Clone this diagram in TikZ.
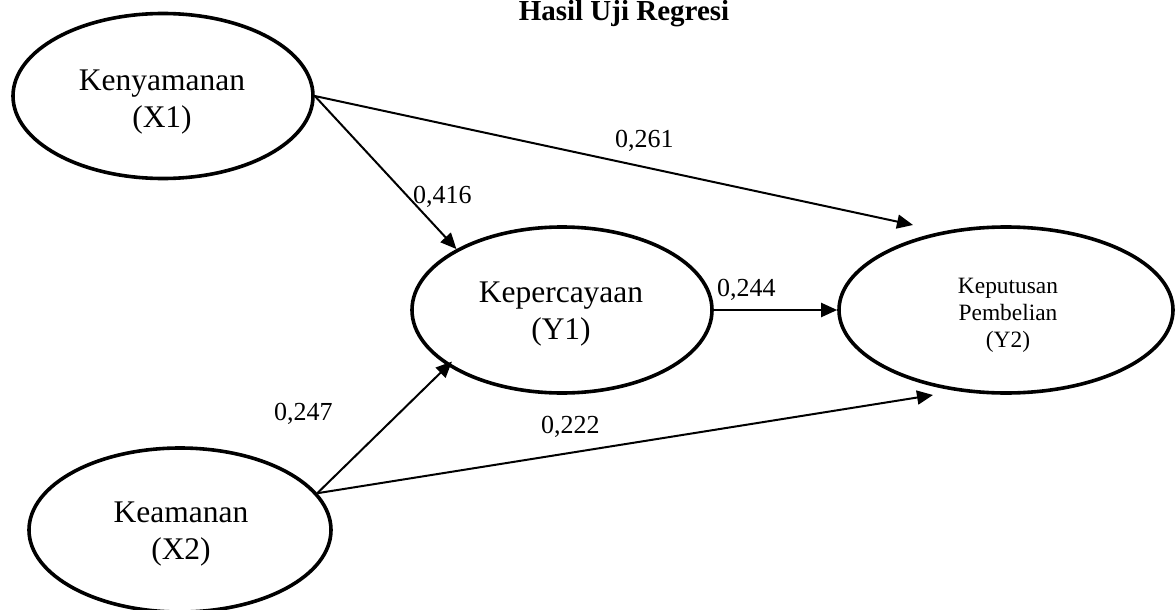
\documentclass[tikz,border=0pt]{standalone}
\usepackage{fontspec}
\setmainfont{Liberation Serif}
\usetikzlibrary{shapes.geometric,arrows.meta}
\begin{document}
\begin{tikzpicture}[x=1pt,y=-1pt,
  latent/.style={ellipse, draw, line width=3.6pt, inner sep=0pt},
  bigtext/.style={font=\fontsize{31.5}{37.5}\selectfont, align=center, inner sep=0pt},
  smalltext/.style={font=\fontsize{23.4}{27}\selectfont, align=center, inner sep=0pt},
  num/.style={font=\fontsize{26}{30}\selectfont, anchor=base west, inner sep=0pt},
  conn/.style={line width=2pt, -{Triangle[length=16pt,width=14pt]}}]
\useasboundingbox (0,0) rectangle (1176,610);
% title
\node[font=\bfseries\fontsize{29}{34}\selectfont, anchor=base, inner sep=0pt] (title) at (624,21) {Hasil Uji Regresi};
% constructs
\node[latent, minimum width=300pt, minimum height=165pt] (x1) at (163,96) {};
\node[latent, minimum width=300pt, minimum height=166pt] (y1) at (562,310) {};
\node[latent, minimum width=334pt, minimum height=166pt] (y2) at (1006,310) {};
\node[latent, minimum width=302pt, minimum height=164pt] (x2) at (180,530) {};
\node[bigtext] (x1t) at (162,102) {Kenyamanan\\(X1)};
\node[bigtext] (y1t) at (561,314) {Kepercayaan\\(Y1)};
\node[bigtext] (x2t) at (181,534) {Keamanan\\(X2)};
\node[smalltext] (y2t) at (1008,315) {Keputusan\\Pembelian\\(Y2)};
% free arrow ends
\coordinate (e1) at (913,225);
\coordinate (e2) at (933,395);
% connectors
\draw[conn] (x1.east) -- (e1);
\draw[conn] (x1.east) -- (y1.150);
\draw[conn] (y1.east) -- (y2.west);
\draw[conn, shorten >=-6pt] (x2.15) -- (y1.206);
\draw[conn] (x2.15) -- (e2);
% coefficients
\node[num] (l261) at (615,147) {0,261};
\node[num] (l416) at (413,203) {0,416};
\node[num] (l244) at (717,296) {0,244};
\node[num] (l247) at (274,420) {0,247};
\node[num] (l222) at (541,433) {0,222};
\end{tikzpicture}
\end{document}
